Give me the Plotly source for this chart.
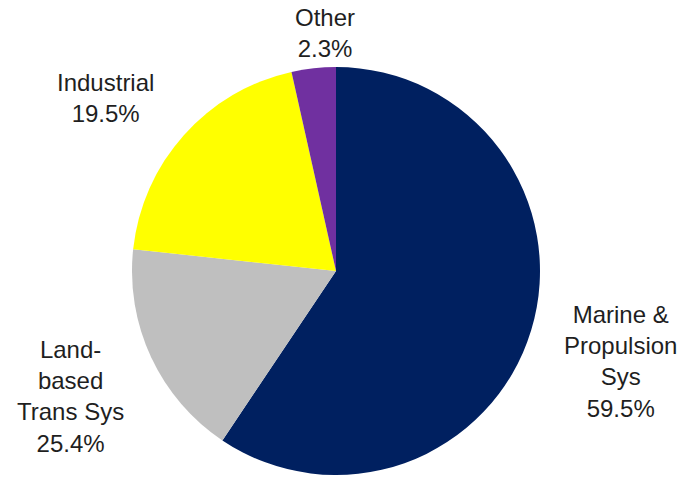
import plotly.graph_objects as go

# Data
categories = ["Marine &<br>Propulsion<br>Sys", "Land-<br>based<br>Trans Sys", "Industrial", "Other"]
slice_values = [59.4, 17.3, 19.8, 3.5]          # slice sizes as drawn
label_percents = ["59.5%", "25.4%", "19.5%", "2.3%"]  # percentages as printed
colors = ["#002060", "#BFBFBF", "#FFFF00", "#7030A0"]

W, H = 683, 479
cx, cy, r = 336, 271, 204

fig = go.Figure(go.Pie(
    labels=[c.replace("<br>", " ") for c in categories],
    values=slice_values,
    sort=False,
    direction="clockwise",
    rotation=0,
    textinfo="none",
    hoverinfo="label+percent",
    marker=dict(colors=colors, line=dict(width=0)),
    domain=dict(x=[(cx - r) / W, (cx + r) / W],
                y=[(H - cy - r) / H, (H - cy + r) / H]),
    showlegend=False,
))

# label block centres (window pixels, from top-left)
label_pos = [(620, 361), (70, 396), (105, 98), (325, 33)]
for cat, pct, (px, py) in zip(categories, label_percents, label_pos):
    fig.add_annotation(
        x=px / W, y=(H - py) / H, xref="paper", yref="paper",
        text=f"{cat}<br>{pct}", showarrow=False,
        xanchor="center", yanchor="middle", align="center",
        font=dict(family="Liberation Sans, Arial, sans-serif", size=24, color="#1f1f1f"),
    )

fig.update_layout(
    width=W, height=H,
    margin=dict(l=0, r=0, t=0, b=0),
    paper_bgcolor="white", plot_bgcolor="white",
)

# remove the default 8px page margin so the figure fills the window
fig.write_html("out.html",
               config={"displayModeBar": False},
               post_script="document.body.style.margin='0';document.body.style.overflow='hidden';")
